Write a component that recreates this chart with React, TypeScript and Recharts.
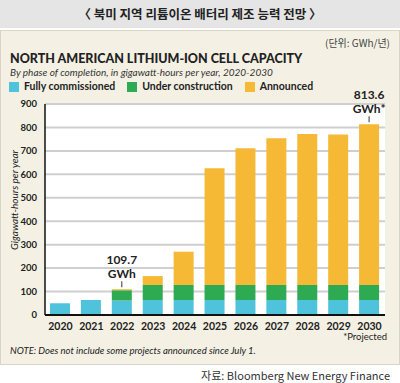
import React from "react";
import { BarChart, Bar, XAxis, YAxis, CartesianGrid, LabelList } from "recharts";

const years = ["2020", "2021", "2022", "2023", "2024", "2025", "2026", "2027", "2028", "2029", "2030"];
const fullyCommissioned = [50, 64, 62, 64, 64, 64, 64, 64, 64, 64, 64];
const underConstruction = [0, 0, 44, 64, 64, 64, 64, 64, 64, 64, 64];
const announced = [0, 0, 3.7, 38, 142, 498, 583, 626, 644, 642, 685.6];
const callouts = ["", "", "109.7|GWh", "", "", "", "", "", "", "", "813.6|GWh*"];
const yTicks = [0, 100, 200, 300, 400, 500, 600, 700, 800, 900];

const data = years.map((year, i) => ({
  year,
  fully: fullyCommissioned[i],
  construction: underConstruction[i],
  announced: announced[i],
  callout: callouts[i],
}));

const FONT = "Lato, 'Noto Sans', sans-serif";
const KFONT = "'Noto Sans CJK KR', sans-serif";

function Callout(props: any) {
  const { x, y, width, value } = props;
  if (!value) return null;
  const [a, b] = String(value).split("|");
  const cx = x + width / 2;
  return (
    <g fontFamily={FONT} fontWeight={700} fontSize={12} fill="#222">
      <text x={cx} y={y - 25} textAnchor="middle">{a}</text>
      <text x={cx} y={y - 11} textAnchor="middle">{b}</text>
      <line x1={cx} x2={cx} y1={y - 8} y2={y - 2} stroke="#333" strokeWidth={1} />
    </g>
  );
}

function Swatch({ color, label }: { color: string; label: string }) {
  return (
    <span style={{ display: "inline-flex", alignItems: "center", marginRight: 12 }}>
      <span style={{ width: 10, height: 10, background: color, display: "inline-block", marginRight: 5 }} />
      {label}
    </span>
  );
}

export default function App() {
  return (
    <div style={{ position: "absolute", left: 0, top: 0, width: 400, height: 383, background: "#fff", fontFamily: FONT, overflow: "hidden" }}>
      <div style={{ position: "absolute", left: 0, top: 0, width: 400, height: 28, background: "#e5e5e5", textAlign: "center", lineHeight: "28px", fontFamily: KFONT, fontSize: 12.5, fontWeight: 700, color: "#222" }}>
        〈 북미 지역 리튬이온 배터리 제조 능력 전망 〉
      </div>
      <div style={{ position: "absolute", left: 0, top: 30, width: 398, height: 333, background: "#f4f1e4", border: "1px solid #d9d5c6" }} />
      <div style={{ position: "absolute", right: 10, top: 35, fontFamily: KFONT, fontSize: 10, color: "#444" }}>(단위: GWh/년)</div>
      <div style={{ position: "absolute", left: 10, top: 51, fontSize: 12.5, fontWeight: 900, color: "#222", whiteSpace: "nowrap", lineHeight: "15px" }}>
        NORTH AMERICAN LITHIUM-ION CELL CAPACITY
      </div>
      <div style={{ position: "absolute", left: 10, top: 66, fontSize: 10, fontStyle: "italic", color: "#333", whiteSpace: "nowrap", lineHeight: "12px" }}>
        By phase of completion, in gigawatt-hours per year, 2020-2030
      </div>
      <div style={{ position: "absolute", left: 9, top: 80, fontSize: 10.5, fontWeight: 700, color: "#222", whiteSpace: "nowrap", display: "flex", lineHeight: "13px" }}>
        <Swatch color="#4fc2dc" label="Fully commissioned" />
        <Swatch color="#2eaa52" label="Under construction" />
        <Swatch color="#f5b935" label="Announced" />
      </div>
      <div style={{ position: "absolute", left: 14, top: 200, transform: "translate(-50%, -50%) rotate(-90deg)", fontSize: 10, fontStyle: "italic", color: "#222", whiteSpace: "nowrap", lineHeight: "12px" }}>
        Gigawatt-hours per year
      </div>
      <div style={{ position: "absolute", left: 0, top: 0 }}>
        <BarChart width={400} height={383} data={data} margin={{ top: 104, right: 15, bottom: 48, left: 15 }}>
          <CartesianGrid vertical={false} stroke="#cfcfcf" strokeWidth={2} fill="#ffffff" fillOpacity={1} />
          <XAxis
            dataKey="year"
            height={20}
            tickLine={false}
            axisLine={{ stroke: "#111", strokeWidth: 2 }}
            tick={{ fontSize: 10.5, fontWeight: 700, fill: "#222", fontFamily: FONT }}
            interval={0}
          />
          <YAxis
            width={30}
            domain={[0, 900]}
            ticks={yTicks}
            tickLine={false}
            tickMargin={2}
            axisLine={{ stroke: "#111", strokeWidth: 1.5 }}
            tick={{ fontSize: 9.5, fontWeight: 700, fill: "#222", fontFamily: FONT }}
          />
          <Bar dataKey="fully" stackId="a" fill="#4fc2dc" barSize={20} isAnimationActive={false} />
          <Bar dataKey="construction" stackId="a" fill="#2eaa52" barSize={20} isAnimationActive={false} />
          <Bar dataKey="announced" stackId="a" fill="#f5b935" barSize={20} isAnimationActive={false}>
            <LabelList dataKey="callout" content={<Callout />} />
          </Bar>
        </BarChart>
      </div>
      <div style={{ position: "absolute", right: 13, top: 331, fontSize: 9.5, color: "#222" }}>*Projected</div>
      <div style={{ position: "absolute", left: 10, top: 345, fontSize: 9.5, fontStyle: "italic", color: "#222", whiteSpace: "nowrap" }}>
        NOTE: Does not include some projects announced since July 1.
      </div>
      <div style={{ position: "absolute", right: 10, top: 368, fontFamily: KFONT, fontSize: 11, color: "#333", whiteSpace: "nowrap", lineHeight: "14px" }}>
        자료: Bloomberg New Energy Finance
      </div>
    </div>
  );
}
